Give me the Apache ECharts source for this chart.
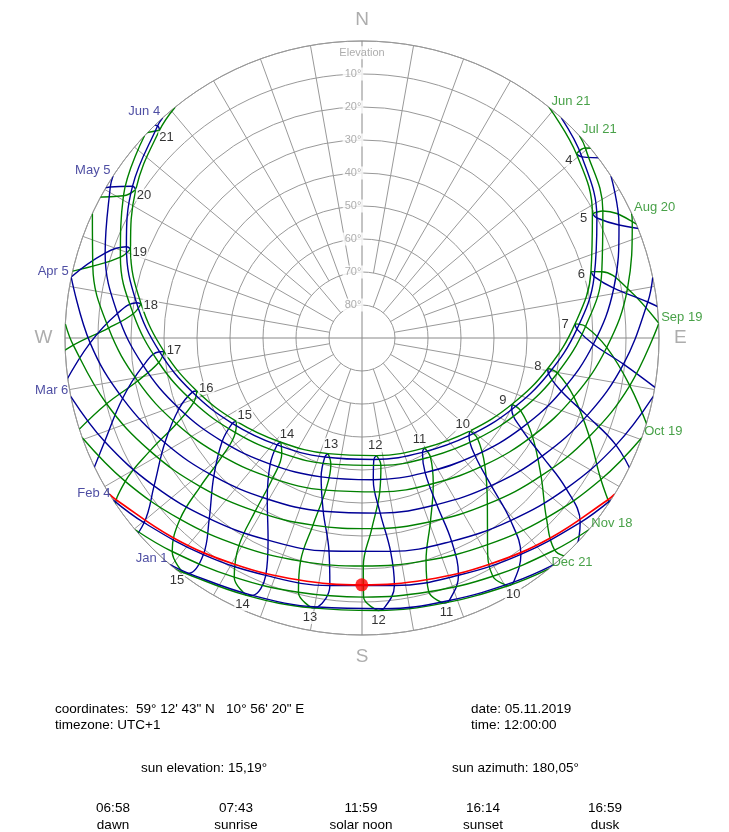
<!DOCTYPE html>
<html>
<head>
<meta charset="utf-8">
<script src="https://cdn.jsdelivr.net/npm/echarts/dist/echarts.min.js"></script>
<style>
  html, body { margin: 0; padding: 0; background: #fff; }
  #chart { width: 729px; height: 832px; }
</style>
</head>
<body>
<div id="chart"></div>
<script>
// Sun position per clock hour (UTC+1) for each day: [hour, elevation °, azimuth °]
const jun21 = [[3,-0.88,36.59],[4,4.35,49.33],[5,10.67,61.65],[6,17.76,73.83],[7,25.31,86.21],[8,32.96,99.32],[9,40.31,113.85],[10,46.80,130.65],[11,51.69,150.43],[12,54.10,172.97],[13,53.48,196.32],[14,49.97,217.89],[15,44.34,236.42],[16,37.43,252.21],[17,29.90,266.07],[18,22.24,278.82],[19,14.84,291.06],[20,8.02,303.26],[21,2.10,315.73],[22,-2.60,328.67]];
const jul21 = [[4,1.13,49.61],[5,7.48,62.19],[6,14.61,74.54],[7,22.17,87.04],[8,29.82,100.16],[9,37.13,114.61],[10,43.58,131.04],[11,48.46,150.09],[12,50.98,171.56],[13,50.62,193.87],[14,47.45,214.84],[15,42.11,233.22],[16,35.40,249.09],[17,27.96,263.13],[18,20.29,276.06],[19,12.80,288.49],[20,5.84,300.80],[21,-0.27,313.55]];
const aug20 = [[4,-5.83,53.62],[5,0.82,66.69],[6,8.15,79.42],[7,15.79,92.21],[8,23.36,105.54],[9,30.43,119.95],[10,36.48,135.97],[11,40.89,153.91],[12,43.05,173.43],[13,42.59,193.44],[14,39.59,212.50],[15,34.54,229.78],[16,28.08,245.19],[17,20.78,259.16],[18,13.14,272.24],[19,5.56,284.96],[20,-1.58,297.77]];
const sep19 = [[5,-7.63,74.16],[6,-0.07,87.15],[7,7.58,100.08],[8,14.92,113.43],[9,21.52,127.61],[10,26.91,142.97],[11,30.60,159.57],[12,32.16,177.06],[13,31.37,194.69],[14,28.35,211.65],[15,23.47,227.43],[16,17.21,241.97],[17,10.07,255.56],[18,2.48,268.58],[19,-5.15,281.50]];
const oct19 = [[7,-1.14,107.62],[8,5.86,120.65],[9,11.94,134.29],[10,16.72,148.73],[11,19.80,163.95],[12,20.89,179.67],[13,19.88,195.40],[14,16.88,210.66],[15,12.17,225.13],[16,6.13,238.80],[17,-0.83,251.85],[18,-8.34,264.63]];
const nov18 = [[8,-2.58,124.80],[9,3.19,137.74],[10,7.64,151.23],[11,10.48,165.27],[12,11.49,179.65],[13,10.58,194.04],[14,7.82,208.11],[15,3.43,221.64],[16,-2.28,234.59]];
const dec21 = [[9,-1.79,136.48],[10,2.84,149.46],[11,5.93,162.90],[12,7.30,176.68],[13,6.81,190.53],[14,4.52,204.17],[15,0.60,217.36],[16,-4.70,230.07]];
const jan1 = [[9,-1.85,135.21],[10,2.91,148.17],[11,6.16,161.62],[12,7.69,175.44],[13,7.37,189.36],[14,5.22,203.08],[15,1.42,216.37],[16,-3.79,229.16]];
const feb4 = [[8,-2.97,117.30],[9,3.40,130.23],[10,8.64,143.72],[11,12.38,157.87],[12,14.34,172.54],[13,14.34,187.40],[14,12.39,202.07],[15,8.65,216.22],[16,3.43,229.72],[17,-2.94,242.64]];
const mar6 = [[6,-8.55,86.99],[7,-0.90,99.86],[8,6.46,112.87],[9,13.12,126.43],[10,18.67,140.85],[11,22.67,156.22],[12,24.75,172.37],[13,24.67,188.81],[14,22.45,204.92],[15,18.31,220.22],[16,12.67,234.57],[17,5.94,248.08],[18,-1.44,261.06],[19,-9.10,273.94]];
const apr5 = [[5,-4.74,69.88],[6,2.71,82.82],[7,10.37,95.71],[8,17.86,109.03],[9,24.74,123.26],[10,30.52,138.80],[11,34.67,155.84],[12,36.66,174.06],[13,36.21,192.62],[14,33.40,210.48],[15,28.59,226.99],[16,22.35,242.02],[17,15.20,255.86],[18,7.60,268.97],[19,-0.03,281.83],[20,-7.30,294.89]];
const may5 = [[4,-1.71,53.47],[5,4.92,66.26],[6,12.23,78.82],[7,19.87,91.54],[8,27.46,104.93],[9,34.55,119.59],[10,40.61,136.11],[11,44.96,154.87],[12,46.93,175.44],[13,46.14,196.40],[14,42.74,216.06],[15,37.33,233.54],[16,30.61,248.93],[17,23.18,262.79],[18,15.51,275.73],[19,8.02,288.30],[20,1.05,300.96],[21,-5.03,314.02]];
const jun4 = [[3,-1.68,37.72],[4,3.66,50.54],[5,10.07,62.94],[6,17.23,75.18],[7,24.81,87.64],[8,32.45,100.86],[9,39.72,115.50],[10,46.09,132.40],[11,50.79,152.16],[12,53.00,174.45],[13,52.21,197.35],[14,48.61,218.46],[15,42.95,236.67],[16,36.03,252.31],[17,28.50,266.13],[18,20.84,278.88],[19,13.44,291.17],[20,6.63,303.46],[21,0.74,316.04],[22,-3.92,329.12]];
const nov5 = [[8,0.89,123.47],[9,6.76,136.70],[10,11.31,150.58],[11,14.20,165.10],[12,15.19,180.05],[13,14.20,194.90],[14,11.31,209.42],[15,6.76,223.30],[16,0.89,236.53]];

// Day curves: second half of the year (green) and first half (blue)
const greenNames = ['Jun 21', 'Jul 21', 'Aug 20', 'Sep 19', 'Oct 19', 'Nov 18', 'Dec 21'];
const greenRiseAz = [39.0, 47.08, 65.20, 87.27, 109.62, 130.21, 141.0];
const greenSetAz = [321.0, 312.92, 294.80, 272.73, 250.38, 229.79, 219.0];
const blueNames = ['Jan 1', 'Feb 4', 'Mar 6', 'Apr 5', 'May 5', 'Jun 4'];
const blueRiseAz = [139.75, 123.03, 101.39, 78.22, 56.97, 42.16];
const blueSetAz = [220.25, 236.97, 258.61, 281.78, 303.03, 317.84];

// Selected day (05.11.2019) and the sun at 12:00
const todayRiseAz = 121.69;
const todaySetAz = 238.31;
const sunNow = [15.19, 180.05];

// Hour curves and their labels
const analemmaHours = [4,5,6,7,8,9,10,11,12,13,14,15,16,17,18,19,20,21];
const summerLabelHours = [4,5,6,7,8,9,10,11,12,13,14,15,16,17,18,19,20,21];
const winterLabelHours = [10,11,12,13,14,15];

// Grid: ring labels, long spokes (from 80°) and short spokes (from 70°)
const elevationTicks = [10, 20, 30, 40, 50, 60, 70, 80];
const longSpokeAz = [20,40,60,80,100,120,140,160,200,220,240,260,280,300,320,340];
const shortSpokeAz = [10,30,50,70,110,130,150,170,190,210,230,250,290,310,330,350];
const compassNames = ['N', 'E', 'S', 'W'];
const compassAz = [0, 90, 180, 270];

// Info block
const infoCoords = 'coordinates:  59° 12\' 43" N   10° 56\' 20" E';
const infoZone = 'timezone: UTC+1';
const infoDate = 'date: 05.11.2019';
const infoTime = 'time: 12:00:00';
const infoElev = 'sun elevation: 15,19°';
const infoAzim = 'sun azimuth: 180,05°';
const eventTimes = ['06:58', '07:43', '11:59', '16:14', '16:59'];
const eventNames = ['dawn', 'sunrise', 'solar noon', 'sunset', 'dusk'];

const GREEN = '#008000';
const BLUE = '#000096';
const RED = '#ff0000';
const GRID = '#999999';
const FONT = '"Liberation Sans", Arial, sans-serif';
const GAP = ['-', '-'];

const chart = echarts.init(document.getElementById('chart'), null, { renderer: 'canvas' });

function at(rows, h) {
  const r = rows.find(x => x[0] === h);
  return r ? [r[1], r[2]] : GAP;
}
function dayPath(rows, riseAz, setAz) {
  const above = rows.filter(r => r[1] >= 0).map(r => [r[1], r[2]]);
  return [[0, riseAz]].concat(above, [[0, setAz]]);
}
function lineSeries(data, color, z, extra) {
  return Object.assign({
    type: 'line', coordinateSystem: 'polar', data: data, symbol: 'none',
    smooth: 0.4, lineStyle: { color: color, width: 1.4 }, silent: true,
    animation: false, z: z
  }, extra || {});
}

const greenDays = [jun21, jul21, aug20, sep19, oct19, nov18, dec21];
const blueDays = [jan1, feb4, mar6, apr5, may5, jun4];
const greenLoop = [jun21, jul21, aug20, sep19, oct19, nov18, dec21];
const blueLoop = [dec21, jan1, feb4, mar6, apr5, may5, jun4, jun21];

const series = [];

// azimuth spokes
const spokeData = [];
longSpokeAz.forEach(az => { spokeData.push([80, az], [0, az], GAP); });
shortSpokeAz.forEach(az => { spokeData.push([70, az], [0, az], GAP); });
series.push(lineSeries(spokeData, GRID, 1, { smooth: false, lineStyle: { color: GRID, width: 1 } }));

// N-S and E-W axes through the zenith
series.push(lineSeries([[-3.2, 0], [90, 0], [-3.2, 180], GAP, [-1.8, 90], [90, 90], [-1.8, 270]], GRID, 1,
  { smooth: false, clip: false, lineStyle: { color: '#888888', width: 1 } }));

// hour curves (analemmas)
analemmaHours.forEach(h => {
  series.push(lineSeries(greenLoop.map(rows => at(rows, h)), GREEN, 2));
  series.push(lineSeries(blueLoop.map(rows => at(rows, h)), BLUE, 2));
});

// day curves
greenDays.forEach((rows, i) => series.push(lineSeries(dayPath(rows, greenRiseAz[i], greenSetAz[i]), GREEN, 3)));
blueDays.forEach((rows, i) => series.push(lineSeries(dayPath(rows, blueRiseAz[i], blueSetAz[i]), BLUE, 3)));
series.push(lineSeries(dayPath(nov5, todayRiseAz, todaySetAz), RED, 4, { lineStyle: { color: RED, width: 1.7 } }));

function labelSeries(data, label, z) {
  return {
    type: 'scatter', coordinateSystem: 'polar', data: data, symbolSize: 1, clip: false,
    itemStyle: { color: 'rgba(0,0,0,0)' }, silent: true, animation: false, z: z || 6,
    label: Object.assign({ show: true, fontFamily: FONT }, label)
  };
}

// hour numbers: inside the summer end, outside the winter end
series.push(labelSeries(
  summerLabelHours.map(h => { const p = at(jun21, h); return [p[0] + 3, p[1], h]; }),
  { position: 'inside', fontSize: 13, color: '#000', backgroundColor: '#fff', padding: [0, 1],
    formatter: p => String(p.value[2]) }));
series.push(labelSeries(
  winterLabelHours.map(h => { const p = at(dec21, h); return [p[0] - 3, p[1], h]; }),
  { position: 'inside', fontSize: 13, color: '#000', backgroundColor: '#fff', padding: [0, 1],
    formatter: p => String(p.value[2]) }));

// day names at the ends of the day curves
series.push(labelSeries(greenRiseAz.map((az, i) => [0, az, greenNames[i]]),
  { position: 'right', distance: 2, offset: [0, -6], fontSize: 13, color: '#1a8a1a', formatter: p => p.value[2] }));
series.push(labelSeries(blueSetAz.map((az, i) => [0, az, blueNames[i]]),
  { position: 'left', distance: 2, offset: [0, -6], fontSize: 13, color: '#22228c', formatter: p => p.value[2] }));

// elevation ring labels
series.push(labelSeries(elevationTicks.map(e => [e, 0, e]),
  { position: 'inside', offset: [-9, 0], fontSize: 11, color: '#999', backgroundColor: '#fff', padding: [1, 2],
    formatter: p => p.value[2] + '°' }, 5));
series.push(labelSeries([[3.55, 0, 'Elevation']],
  { position: 'inside', fontSize: 11, color: '#999', backgroundColor: '#fff', padding: [1, 2],
    formatter: p => p.value[2] }, 5));

// compass letters
series.push(labelSeries(compassAz.map((az, i) => [-6.5, az, compassNames[i]]),
  { position: 'inside', fontSize: 19, color: '#999', formatter: p => p.value[2] }, 5));

// current sun position
series.push({
  type: 'scatter', coordinateSystem: 'polar', data: [sunNow], symbolSize: 13,
  itemStyle: { color: RED }, silent: true, animation: false, z: 7
});

const txt = (text, x, y, align) => ({
  type: 'text', x: x, y: y, silent: true,
  style: { text: text, fill: '#000', font: '13.5px ' + FONT, align: align || 'left', verticalAlign: 'middle' }
});
const graphic = [
  txt(infoCoords, 55, 709), txt(infoZone, 55, 725),
  txt(infoDate, 471, 709), txt(infoTime, 471, 725),
  txt(infoElev, 141, 768), txt(infoAzim, 452, 768)
];
const eventX = [113, 236, 361, 483, 605];
eventTimes.forEach((t, i) => {
  graphic.push(txt(t, eventX[i], 808, 'center'));
  graphic.push(txt(eventNames[i], eventX[i], 825, 'center'));
});

chart.setOption({
  animation: false,
  backgroundColor: '#fff',
  textStyle: { fontFamily: FONT },
  polar: { center: [362, 338], radius: 297 },
  angleAxis: {
    type: 'value', min: 0, max: 360, interval: 10, startAngle: 90, clockwise: true,
    axisLine: { show: true, lineStyle: { color: GRID, width: 1 } },
    axisTick: { show: false }, axisLabel: { show: false }, splitLine: { show: false }
  },
  radiusAxis: {
    type: 'value', min: 0, max: 90, interval: 10, inverse: true,
    axisLine: { show: false }, axisTick: { show: false }, axisLabel: { show: false },
    splitLine: { show: true, lineStyle: { color: GRID, width: 1 } }
  },
  series: series,
  graphic: graphic
});
</script>
</body>
</html>
